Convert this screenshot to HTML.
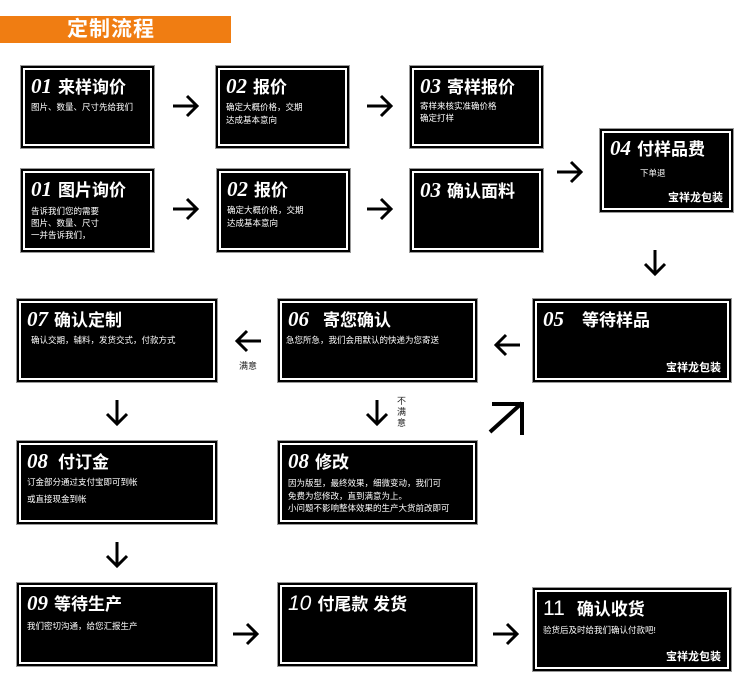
<!DOCTYPE html>
<html><head><meta charset="utf-8"><style>
body{margin:0;width:750px;height:687px;background:#fff;position:relative;overflow:hidden;font-family:"Liberation Sans","Noto Sans CJK SC",sans-serif;}
.title{position:absolute;left:0;top:16px;width:231px;height:27px;background:#f07d12;color:#fff;font-weight:bold;font-size:21px;line-height:27px;}
.title span{position:absolute;left:67px;top:0;letter-spacing:1px;}
.b{position:absolute;background:#000;border:1px solid #999;box-shadow:inset 0 0 0 2px #000,inset 0 0 0 4px #fff;box-sizing:border-box;color:#fff;}
.h{position:absolute;left:10px;top:7px;font-size:17px;font-weight:bold;white-space:nowrap;}
.h i{font-family:"Liberation Serif",serif;font-size:21px;font-weight:bold;margin-right:6px;}
.s{position:absolute;left:10px;top:35px;font-size:8.5px;line-height:13px;white-space:nowrap;}
.r{position:absolute;right:10px;bottom:7px;font-size:11px;font-weight:bold;}
.t{position:absolute;font-size:9px;color:#222;line-height:11px;}
</style></head><body>
<div class="title"><span>定制流程</span></div>

<div class="b" style="left:20px;top:65px;width:135px;height:84px"><div class="h"><i>01</i>来样询价</div><div class="s">图片、数量、尺寸先给我们</div></div>
<div class="b" style="left:215px;top:65px;width:135px;height:84px"><div class="h"><i>02</i>报价</div><div class="s">确定大概价格，交期<br>达成基本意向</div></div>
<div class="b" style="left:409px;top:65px;width:135px;height:84px"><div class="h"><i>03</i>寄样报价</div><div class="s" style="top:34px;line-height:12px">寄样来核实准确价格<br>确定打样</div></div>
<div class="b" style="left:20px;top:168px;width:135px;height:85px"><div class="h"><i>01</i>图片询价</div><div class="s" style="top:36px;line-height:12px">告诉我们您的需要<br>图片、数量、尺寸<br>一并告诉我们，</div></div>
<div class="b" style="left:216px;top:168px;width:135px;height:85px"><div class="h"><i>02</i>报价</div><div class="s">确定大概价格，交期<br>达成基本意向</div></div>
<div class="b" style="left:409px;top:168px;width:135px;height:85px"><div class="h" style="top:8px"><i>03</i>确认面料</div></div>
<div class="b" style="left:599px;top:128px;width:135px;height:85px"><div class="h" style="top:6px"><i>04</i>付样品费</div><div class="s" style="left:40px;top:38px">下单退</div><div class="r">宝祥龙包装</div></div>
<div class="b" style="left:532px;top:298px;width:200px;height:85px"><div class="h"><i style="margin-right:18px">05</i>等待样品</div><div class="r">宝祥龙包装</div></div>
<div class="b" style="left:277px;top:298px;width:201px;height:85px"><div class="h"><i style="margin-right:14px">06</i>寄您确认</div><div class="s" style="left:8px">急您所急，我们会用默认的快递为您寄送</div></div>
<div class="b" style="left:16px;top:298px;width:202px;height:85px"><div class="h"><i>07</i>确认定制</div><div class="s" style="left:14px">确认交期，辅料，发货交式，付款方式</div></div>
<div class="b" style="left:16px;top:440px;width:202px;height:85px"><div class="h"><i style="margin-right:10px">08</i>付订金</div><div class="s">订金部分通过支付宝即可到帐<br><span style="line-height:20px">或直接现金到帐</span></div></div>
<div class="b" style="left:277px;top:440px;width:201px;height:85px"><div class="h"><i>08</i>修改</div><div class="s" style="top:36px;line-height:12.5px">因为版型，最终效果，细微变动，我们可<br>免费为您修改，直到满意为上。<br>小问题不影响整体效果的生产大货前改即可</div></div>
<div class="b" style="left:16px;top:582px;width:202px;height:85px"><div class="h"><i>09</i>等待生产</div><div class="s" style="top:37px">我们密切沟通，给您汇报生产</div></div>
<div class="b" style="left:277px;top:582px;width:201px;height:85px"><div class="h"><i style="font-family:'Liberation Sans',sans-serif;font-style:italic;font-weight:normal">10</i>付尾款 发货</div></div>
<div class="b" style="left:532px;top:587px;width:200px;height:85px"><div class="h"><i style="font-family:'Liberation Sans',sans-serif;font-style:normal;font-weight:normal;margin-right:12px">11</i>确认收货</div><div class="s" style="top:36px">验货后及时给我们确认付款吧!</div><div class="r">宝祥龙包装</div></div>

<div class="t" style="left:239px;top:361px">满意</div>
<div class="t" style="left:397px;top:396px;width:10px">不<br>满<br>意</div>

<svg width="750" height="687" style="position:absolute;left:0;top:0" fill="none" stroke="#000" stroke-width="3">
<g id="ar">
<path d="M173 106h24M187 96l10 10-10 10"/>
<path d="M367 106h24M381 96l10 10-10 10"/>
<path d="M173 209h24M187 199l10 10-10 10"/>
<path d="M367 209h24M381 199l10 10-10 10"/>
<path d="M557 172h24M571 162l10 10-10 10"/>
<path d="M655 250v24M645 264l10 10 10-10"/>
<path d="M520 345h-24M506 335l-10 10 10 10"/>
<path d="M261 341h-24M247 331l-10 10 10 10"/>
<path d="M117 400v24M107 414l10 10 10-10"/>
<path d="M377 400v24M367 414l10 10 10-10"/>
<path d="M117 542v24M107 556l10 10 10-10"/>
<path d="M233 634h24M247 624l10 10-10 10"/>
<path d="M493 634h24M507 624l10 10-10 10"/>
<path d="M490 432l32-29M492 404h30v31" stroke-width="4"/>
</g></svg>
</body></html>
